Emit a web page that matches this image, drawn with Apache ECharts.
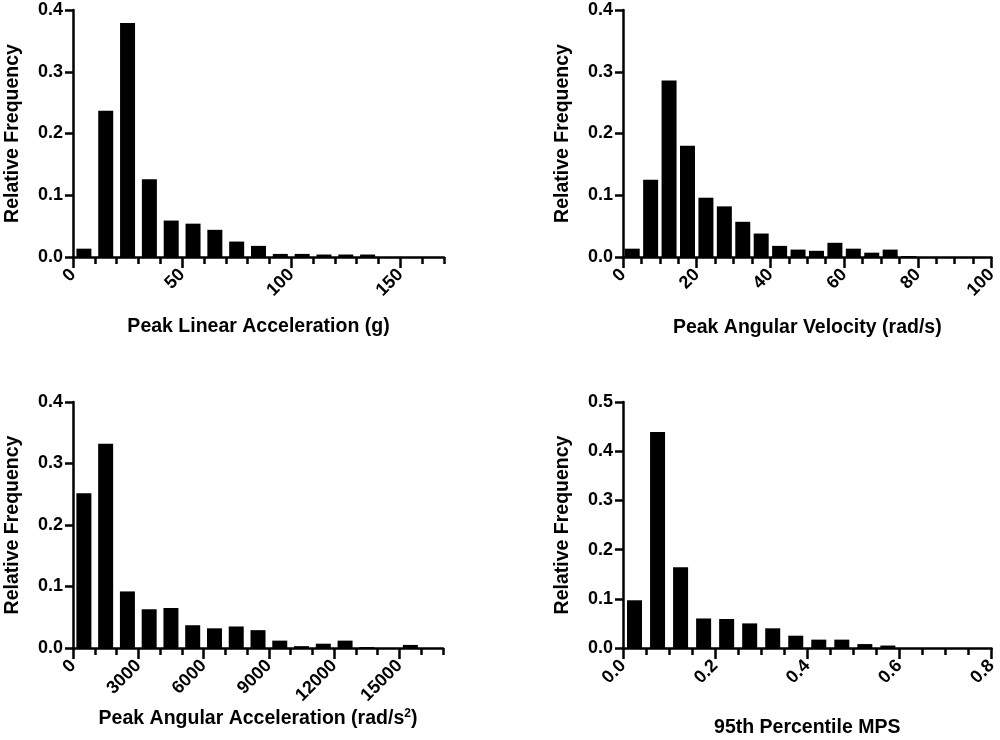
<!DOCTYPE html>
<html>
<head>
<meta charset="utf-8">
<script src="https://cdn.jsdelivr.net/npm/echarts@6/dist/echarts.min.js"></script>
<style>
html,body{margin:0;padding:0;background:#fff;}
#chart{width:1000px;height:740px;}
</style>
</head>
<body>
<div id="chart"></div>
<script>
// ---- Data (relative frequency per bin, bin centres) ----
const plaCenters = [5,15,25,35,45,55,65,75,85,95,105,115,125,135,145,155,165];
const plaValues  = [0.0135,0.237,0.379,0.126,0.059,0.054,0.044,0.025,0.018,0.005,0.005,0.004,0.004,0.004,0,0,0];

const pavCenters = [2.5,7.5,12.5,17.5,22.5,27.5,32.5,37.5,42.5,47.5,52.5,57.5,62.5,67.5,72.5,77.5,82.5,87.5,92.5,97.5];
const pavValues  = [0.0135,0.125,0.286,0.180,0.096,0.082,0.057,0.038,0.018,0.012,0.010,0.023,0.0135,0.007,0.012,0.0015,0,0,0,0];

const paaCenters = [500,1500,2500,3500,4500,5500,6500,7500,8500,9500,10500,11500,12500,13500,14500,15500,16500];
const paaValues  = [0.2515,0.332,0.092,0.063,0.065,0.037,0.032,0.035,0.029,0.012,0.003,0.007,0.012,0.0015,0,0.005,0];

const mpsCenters = [0.025,0.075,0.125,0.175,0.225,0.275,0.325,0.375,0.425,0.475,0.525,0.575,0.625,0.675,0.725,0.775];
const mpsValues  = [0.097,0.439,0.164,0.060,0.059,0.050,0.040,0.025,0.017,0.017,0.008,0.005,0,0,0,0];

// tick labels
const plaTicks = [0,50,100,150];
const pavTicks = [0,20,40,60,80,100];
const paaTicks = [0,3000,6000,9000,12000,15000];
const mpsTicks = [0,0.2,0.4,0.6,0.8];

const xTitles = ['Peak Linear Acceleration (g)','Peak Angular Velocity (rad/s)','Peak Angular Acceleration (rad/s{sup|2})','95th Percentile MPS'];
const yTitle = 'Relative Frequency';

// ---- Layout ----
const FF = '"Liberation Sans", Arial, Helvetica, sans-serif';
const panels = [
  {grid:{left:73,top:10,width:371,height:247}, xMin:0,xMax:170,xStep:10,majors:plaTicks,yMax:0.4,centers:plaCenters,values:plaValues,title:xTitles[0],nameGap:60,fmt:v=>String(v)},
  {grid:{left:623,top:10,width:371,height:247}, xMin:0,xMax:100,xStep:5,majors:pavTicks,yMax:0.4,centers:pavCenters,values:pavValues,title:xTitles[1],nameGap:61,fmt:v=>String(v)},
  {grid:{left:73,top:402,width:370,height:246}, xMin:0,xMax:17000,xStep:1000,majors:paaTicks,yMax:0.4,centers:paaCenters,values:paaValues,title:xTitles[2],nameGap:53,fmt:v=>String(v)},
  {grid:{left:623,top:402,width:371,height:246}, xMin:0,xMax:0.8,xStep:0.05,majors:mpsTicks,yMax:0.5,centers:mpsCenters,values:mpsValues,title:xTitles[3],nameGap:70,fmt:v=>Number(v).toFixed(1)}
];

const grids=[], xAxes=[], yAxes=[], series=[];
const lineStyle = {color:'#000', width:2.5};
panels.forEach((p,i)=>{
  grids.push(Object.assign({containLabel:false}, p.grid));
  // main x axis (minor ticks + labels)
  xAxes.push({
    gridIndex:i, type:'value', min:p.xMin, max:p.xMax, interval:p.xStep, position:'bottom',
    axisLine:{show:true, onZero:false, lineStyle:lineStyle},
    axisTick:{show:true, length:7, lineStyle:lineStyle},
    splitLine:{show:false},
    axisLabel:{show:true, customValues:p.majors, rotate:45, margin:15, color:'#000', fontSize:18, fontWeight:'bold', fontFamily:FF, formatter:p.fmt},
    name:p.title, nameLocation:'middle', nameGap:p.nameGap,
    nameTextStyle:{color:'#000', fontSize:19.5, fontWeight:'bold', fontFamily:FF,
      rich:{sup:{fontSize:12, fontWeight:'bold', fontFamily:FF, color:'#000', verticalAlign:'top', lineHeight:22}}}
  });
  // major tick overlay
  xAxes.push({
    gridIndex:i, type:'value', min:p.xMin, max:p.xMax, position:'bottom',
    axisLine:{show:false}, splitLine:{show:false}, axisLabel:{show:false},
    axisTick:{show:true, customValues:p.majors, length:11, lineStyle:lineStyle}
  });
  yAxes.push({
    gridIndex:i, type:'value', min:0, max:p.yMax, interval:0.1,
    axisLine:{show:true, lineStyle:lineStyle},
    axisTick:{show:true, length:8, lineStyle:lineStyle},
    splitLine:{show:false},
    axisLabel:{color:'#000', fontSize:18, fontWeight:'bold', fontFamily:FF, margin:10, formatter:v=>Number(v).toFixed(1)},
    name:yTitle, nameLocation:'middle', nameGap:50,
    nameTextStyle:{color:'#000', fontSize:19.5, fontWeight:'bold', fontFamily:FF}
  });
  series.push({
    type:'bar', xAxisIndex:i*2, yAxisIndex:i, barWidth:15,
    itemStyle:{color:'#000'},
    data:p.centers.map((c,k)=>[c,p.values[k]]),
    animation:false
  });
});

const chart = echarts.init(document.getElementById('chart'), null, {renderer:'canvas'});
chart.setOption({
  animation:false,
  backgroundColor:'#fff',
  grid:grids, xAxis:xAxes, yAxis:yAxes, series:series
});
</script>
</body>
</html>
